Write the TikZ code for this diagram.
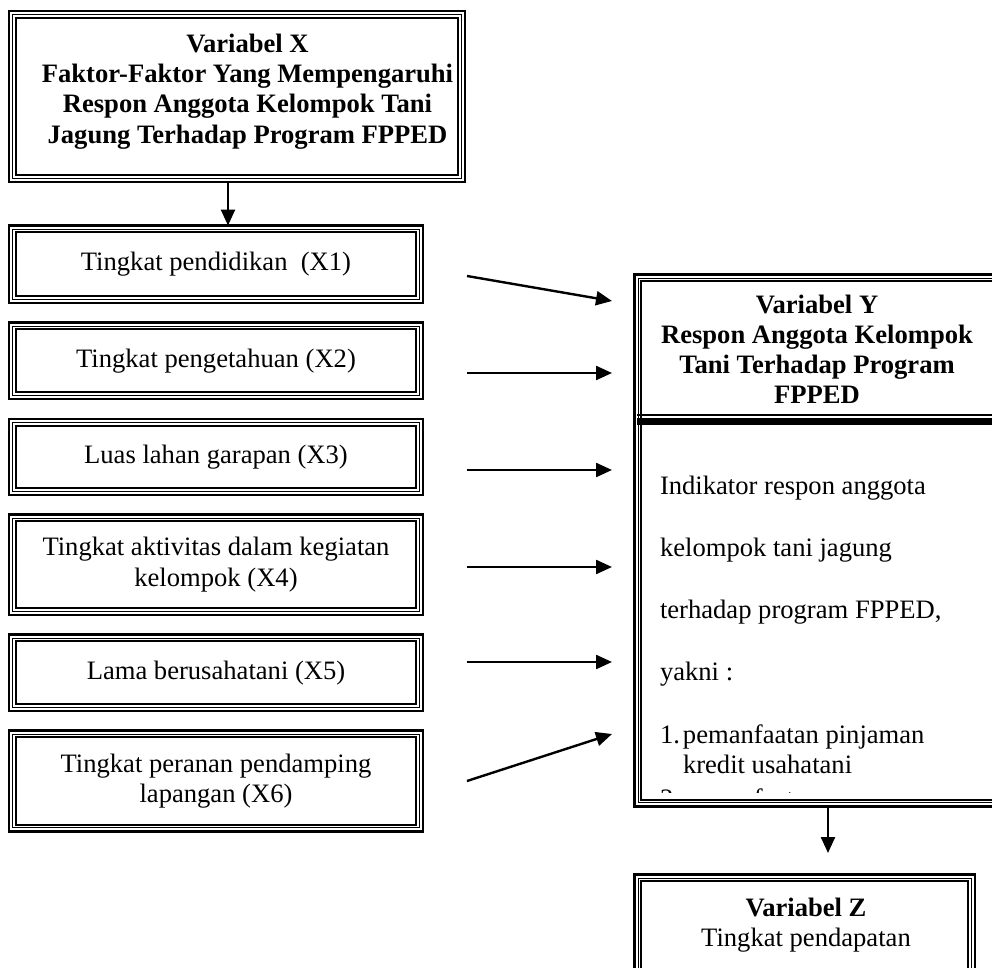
\documentclass[tikz,border=0pt]{standalone}
\usepackage{fontspec}
\setmainfont{Liberation Serif}
\usetikzlibrary{arrows.meta}
\newcommand\tripfr[1]{%
  \draw[line width=0.5pt] ([shift={(3.6,3.6)}]#1.north west) rectangle ([shift={(-3.6,-3.6)}]#1.south east);
  \draw[line width=1pt] ([shift={(6.7,6.7)}]#1.north west) rectangle ([shift={(-6.7,-6.7)}]#1.south east);}
\begin{document}
\begin{tikzpicture}[x=0.5pt,y=-0.5pt,
  every node/.style={font=\fontsize{13.3}{15.3}\selectfont, inner sep=0pt, outer sep=0pt},
  box/.style={draw, line width=1.15pt, rectangle, align=center},
  lbox/.style={box, minimum width=207pt},
  arr/.style={-{Triangle[length=8pt,width=7pt]}, line width=1.2pt},
  hdr/.style={align=center, font=\fontsize{13.3}{15}\selectfont\bfseries},
  body/.style={align=left, anchor=north west, font=\fontsize{13.3}{31.1}\selectfont}]
\useasboundingbox (0,0) rectangle (992,968);
\clip (0,0) rectangle (992,968);
\fill[white] (0,0) rectangle (992,968);

% Variabel X
\node[box, minimum width=228pt, minimum height=85.5pt] (X) at (237,96.5) {};
\tripfr{X}
\node[hdr, font=\fontsize{13.3}{15.2}\selectfont\bfseries] (Xt) at (247.5,91.5)
  {Variabel X\\Faktor-Faktor Yang Mempengaruhi\\Respon Anggota Kelompok Tani\\Jagung Terhadap Program FPPED};

% left boxes
\node[lbox, minimum height=38.75pt] (x1) at (216,264.3) {Tingkat pendidikan\ \ (X1)};
\node[lbox, minimum height=38.25pt] (x2) at (216,360.7) {Tingkat pengetahuan (X2)};
\node[lbox, minimum height=38pt]    (x3) at (216,457)   {Luas lahan garapan (X3)};
\node[lbox, minimum height=50.25pt] (x4) at (216,564.7) {Tingkat aktivitas dalam kegiatan\\kelompok (X4)};
\node[lbox, minimum height=38.25pt] (x5) at (216,672.7) {Lama berusahatani (X5)};
\node[lbox, minimum height=50.5pt]  (x6) at (216,781) {Tingkat peranan pendamping\\lapangan (X6)};
\foreach \n in {x1,x2,x3,x4,x5,x6} {\tripfr{\n}}

% Variabel Y
\node[box, minimum width=182.75pt, minimum height=266pt] (Y) at (817.25,540.5) {};
\tripfr{Y}
\draw[line width=0.75pt] (637,415) -- (1000,415);
\draw[line width=3.5pt] (637,422) -- (1000,422);
\node[hdr] (Yt) at (817,349) {Variabel Y\\Respon Anggota Kelompok\\Tani Terhadap Program\\FPPED};
\begin{scope}
\clip (643,430) rectangle (990,792);
\node[body] (Yb) at (660,475.8) {Indikator respon anggota\\
kelompok tani jagung\\
terhadap program FPPED,\\
yakni :\\
\makebox[11.5pt][l]{1.}pemanfaatan pinjaman\\[-16.1pt]
\hspace*{11.5pt}kredit usahatani\\[-13.8pt]
\makebox[11.5pt][l]{2.}pemanfaatan};
\end{scope}

% Variabel Z
\node[box, minimum width=170.25pt, minimum height=67.75pt] (Z) at (804.75,942.25) {};
\tripfr{Z}
\node[align=center] (Zt) at (806,925) {\textbf{Variabel Z}\\Tingkat pendapatan};

% arrows
\coordinate (c1) at (228,0);
\draw[arr] (X.south -| c1) -- (x1.north -| c1);
\coordinate (c2) at (828,853);
\draw[arr] (Y.south -| c2) -- (c2);

\coordinate (s1) at (467,276); \coordinate (t1) at (612,301);
\coordinate (s2) at (467,373); \coordinate (t2) at (612,373);
\coordinate (s3) at (467,470); \coordinate (t3) at (612,470);
\coordinate (s4) at (467,567); \coordinate (t4) at (612,567);
\coordinate (s5) at (467,662); \coordinate (t5) at (612,662);
\coordinate (s6) at (467,781); \coordinate (t6) at (612,734);
\foreach \i in {1,...,6} {\draw[arr] (s\i) -- (t\i);}
\end{tikzpicture}
\end{document}
